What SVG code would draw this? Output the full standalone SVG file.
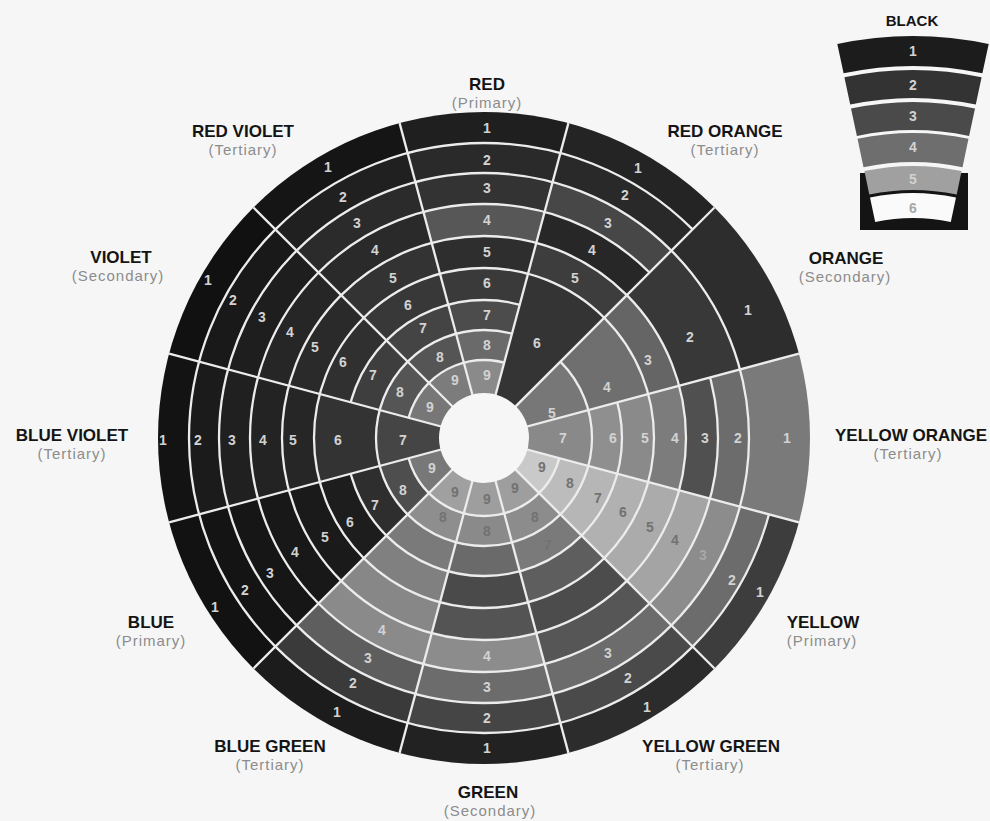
<svg xmlns="http://www.w3.org/2000/svg" width="990" height="821" viewBox="0 0 990 821">
<style>
.w circle{stroke:#ececec;stroke-width:2.3}
.w circle.o{stroke:none}
.sep line{stroke:#ececec;stroke-width:2.3}
.n{font-family:"Liberation Sans",Arial,sans-serif;font-weight:bold;font-size:14px;text-anchor:middle;fill:#d2d2d2}
.n.d{fill:#727272}
.n.m{fill:#a8a8a8}
.nm{font-family:"Liberation Sans",Arial,sans-serif;font-weight:bold;font-size:17px;text-anchor:middle;fill:#141414}
.sb{font-family:"Liberation Sans",Arial,sans-serif;font-size:15px;text-anchor:middle;fill:#8c8c8c;letter-spacing:1px}
</style>
<defs>
<clipPath id="c-yo"><path d="M484 438 L870.4 541.5 L870.4 334.5 Z"/></clipPath>
<clipPath id="c-o"><path d="M484 438 L870.4 334.5 L766.8 155.2 Z"/></clipPath>
<clipPath id="c-ro"><path d="M484 438 L766.8 155.2 L587.5 51.6 Z"/></clipPath>
<clipPath id="c-r"><path d="M484 438 L587.5 51.6 L380.5 51.6 Z"/></clipPath>
<clipPath id="c-rv"><path d="M484 438 L380.5 51.6 L201.2 155.2 Z"/></clipPath>
<clipPath id="c-v"><path d="M484 438 L201.2 155.2 L97.6 334.5 Z"/></clipPath>
<clipPath id="c-bv"><path d="M484 438 L97.6 334.5 L97.6 541.5 Z"/></clipPath>
<clipPath id="c-b"><path d="M484 438 L97.6 541.5 L201.2 720.8 Z"/></clipPath>
<clipPath id="c-bg"><path d="M484 438 L201.2 720.8 L380.5 824.4 Z"/></clipPath>
<clipPath id="c-g"><path d="M484 438 L380.5 824.4 L587.5 824.4 Z"/></clipPath>
<clipPath id="c-yg"><path d="M484 438 L587.5 824.4 L766.8 720.8 Z"/></clipPath>
<clipPath id="c-y"><path d="M484 438 L766.8 720.8 L870.4 541.5 Z"/></clipPath>
</defs>
<rect width="990" height="821" fill="#f6f6f6"/>

<g id="sector-red">
<g class="w" clip-path="url(#c-r)">
<circle class="o" cx="484" cy="438" r="326" fill="#1f1f1f"/>
<circle cx="484" cy="438" r="295" fill="#2a2a2a"/>
<circle cx="484" cy="438" r="265" fill="#333333"/>
<circle cx="484" cy="438" r="234" fill="#575757"/>
<circle cx="484" cy="438" r="202" fill="#2e2e2e"/>
<circle cx="484" cy="438" r="170" fill="#3a3a3a"/>
<circle cx="484" cy="438" r="138" fill="#4c4c4c"/>
<circle cx="484" cy="438" r="108" fill="#6a6a6a"/>
<circle cx="484" cy="438" r="78" fill="#8a8a8a"/>
</g>
<text class="n" x="487" y="133">1</text><text class="n" x="487" y="165">2</text><text class="n" x="487" y="193">3</text>
<text class="n" x="487" y="225">4</text><text class="n" x="487" y="257">5</text><text class="n" x="487" y="288">6</text>
<text class="n" x="487" y="320">7</text><text class="n" x="487" y="350">8</text><text class="n" x="487" y="380">9</text>
<text class="nm" x="487" y="90">RED</text><text class="sb" x="487" y="108">(Primary)</text>
</g>

<g id="sector-red-orange">
<g class="w" clip-path="url(#c-ro)">
<circle class="o" cx="484" cy="438" r="326" fill="#242424"/>
<circle cx="484" cy="438" r="295" fill="#292929"/>
<circle cx="484" cy="438" r="265" fill="#474747"/>
<circle cx="484" cy="438" r="234" fill="#272727"/>
<circle cx="484" cy="438" r="202" fill="#3d3d3d"/>
<circle cx="484" cy="438" r="170" fill="#343434"/>
</g>
<text class="n" x="638" y="173">1</text><text class="n" x="625" y="200">2</text><text class="n" x="608" y="228">3</text>
<text class="n" x="592" y="255">4</text><text class="n" x="575" y="283">5</text><text class="n" x="537" y="348">6</text>
<text class="nm" x="725" y="137">RED ORANGE</text><text class="sb" x="725" y="155">(Tertiary)</text>
</g>

<g id="sector-orange">
<g class="w" clip-path="url(#c-o)">
<circle class="o" cx="484" cy="438" r="326" fill="#2d2d2d"/>
<circle cx="484" cy="438" r="265" fill="#383838"/>
<circle cx="484" cy="438" r="202" fill="#656565"/>
<circle cx="484" cy="438" r="170" fill="#6f6f6f"/>
<circle cx="484" cy="438" r="108" fill="#777777"/>
</g>
<text class="n" x="748" y="315">1</text><text class="n" x="690" y="342">2</text><text class="n" x="648" y="365">3</text>
<text class="n" x="607" y="392">4</text><text class="n" x="552" y="418">5</text>
<text class="nm" x="846" y="264">ORANGE</text><text class="sb" x="845" y="282">(Secondary)</text>
</g>

<g id="sector-yellow-orange">
<g class="w" clip-path="url(#c-yo)">
<circle class="o" cx="484" cy="438" r="326" fill="#7a7a7a"/>
<circle cx="484" cy="438" r="265" fill="#6c6c6c"/>
<circle cx="484" cy="438" r="234" fill="#505050"/>
<circle cx="484" cy="438" r="202" fill="#7c7c7c"/>
<circle cx="484" cy="438" r="170" fill="#8a8a8a"/>
<circle cx="484" cy="438" r="138" fill="#8f8f8f"/>
<circle cx="484" cy="438" r="108" fill="#898989"/>
</g>
<text class="n" x="787" y="443">1</text><text class="n" x="738" y="443">2</text><text class="n" x="705" y="443">3</text>
<text class="n" x="675" y="443">4</text><text class="n" x="645" y="443">5</text><text class="n" x="613" y="443">6</text>
<text class="n" x="563" y="443">7</text>
<text class="nm" x="911" y="441">YELLOW ORANGE</text><text class="sb" x="908" y="459">(Tertiary)</text>
</g>

<g id="sector-yellow">
<g class="w" clip-path="url(#c-y)">
<circle class="o" cx="484" cy="438" r="326" fill="#3d3d3d"/>
<circle cx="484" cy="438" r="295" fill="#6c6c6c"/>
<circle cx="484" cy="438" r="265" fill="#8c8c8c"/>
<circle cx="484" cy="438" r="234" fill="#a4a4a4"/>
<circle cx="484" cy="438" r="202" fill="#ababab"/>
<circle cx="484" cy="438" r="170" fill="#b1b1b1"/>
<circle cx="484" cy="438" r="138" fill="#b6b6b6"/>
<circle cx="484" cy="438" r="108" fill="#bcbcbc"/>
<circle cx="484" cy="438" r="78" fill="#c9c9c9"/>
</g>
<text class="n" x="760" y="597">1</text><text class="n" x="732" y="585">2</text><text class="n m" x="703" y="560">3</text>
<text class="n d" x="675" y="545">4</text><text class="n d" x="650" y="532">5</text><text class="n d" x="623" y="517">6</text>
<text class="n d" x="598" y="503">7</text><text class="n d" x="570" y="488">8</text><text class="n d" x="542" y="472">9</text>
<text class="nm" x="823" y="628">YELLOW</text><text class="sb" x="822" y="646">(Primary)</text>
</g>

<g id="sector-yellow-green">
<g class="w" clip-path="url(#c-yg)">
<circle class="o" cx="484" cy="438" r="326" fill="#2c2c2c"/>
<circle cx="484" cy="438" r="295" fill="#4a4a4a"/>
<circle cx="484" cy="438" r="265" fill="#6c6c6c"/>
<circle cx="484" cy="438" r="234" fill="#565656"/>
<circle cx="484" cy="438" r="202" fill="#4c4c4c"/>
<circle cx="484" cy="438" r="170" fill="#5e5e5e"/>
<circle cx="484" cy="438" r="138" fill="#7a7a7a"/>
<circle cx="484" cy="438" r="108" fill="#8c8c8c"/>
<circle cx="484" cy="438" r="78" fill="#9e9e9e"/>
</g>
<text class="n" x="647" y="712">1</text><text class="n" x="628" y="683">2</text><text class="n" x="608" y="658">3</text>
<text class="n d" x="548" y="550">7</text><text class="n d" x="535" y="522">8</text><text class="n d" x="515" y="493">9</text>
<text class="nm" x="711" y="752">YELLOW GREEN</text><text class="sb" x="710" y="770">(Tertiary)</text>
</g>

<g id="sector-green">
<g class="w" clip-path="url(#c-g)">
<circle class="o" cx="484" cy="438" r="326" fill="#222222"/>
<circle cx="484" cy="438" r="295" fill="#454545"/>
<circle cx="484" cy="438" r="265" fill="#6c6c6c"/>
<circle cx="484" cy="438" r="234" fill="#8c8c8c"/>
<circle cx="484" cy="438" r="202" fill="#545454"/>
<circle cx="484" cy="438" r="170" fill="#4a4a4a"/>
<circle cx="484" cy="438" r="138" fill="#6a6a6a"/>
<circle cx="484" cy="438" r="108" fill="#8a8a8a"/>
<circle cx="484" cy="438" r="78" fill="#9e9e9e"/>
</g>
<text class="n" x="487" y="753">1</text><text class="n" x="487" y="723">2</text><text class="n" x="487" y="692">3</text>
<text class="n" x="487" y="661">4</text><text class="n d" x="487" y="536">8</text><text class="n d" x="487" y="504">9</text>
<text class="nm" x="488" y="798">GREEN</text><text class="sb" x="490" y="816">(Secondary)</text>
</g>

<g id="sector-blue-green">
<g class="w" clip-path="url(#c-bg)">
<circle class="o" cx="484" cy="438" r="326" fill="#1c1c1c"/>
<circle cx="484" cy="438" r="295" fill="#3a3a3a"/>
<circle cx="484" cy="438" r="265" fill="#5e5e5e"/>
<circle cx="484" cy="438" r="234" fill="#8a8a8a"/>
<circle cx="484" cy="438" r="202" fill="#878787"/>
<circle cx="484" cy="438" r="170" fill="#808080"/>
<circle cx="484" cy="438" r="138" fill="#7a7a7a"/>
<circle cx="484" cy="438" r="108" fill="#8e8e8e"/>
<circle cx="484" cy="438" r="78" fill="#a0a0a0"/>
</g>
<text class="n" x="337" y="717">1</text><text class="n" x="353" y="688">2</text><text class="n" x="368" y="663">3</text>
<text class="n" x="382" y="635">4</text><text class="n d" x="443" y="522">8</text><text class="n d" x="455" y="497">9</text>
<text class="nm" x="270" y="752">BLUE GREEN</text><text class="sb" x="270" y="770">(Tertiary)</text>
</g>

<g id="sector-blue">
<g class="w" clip-path="url(#c-b)">
<circle class="o" cx="484" cy="438" r="326" fill="#121212"/>
<circle cx="484" cy="438" r="295" fill="#141414"/>
<circle cx="484" cy="438" r="265" fill="#161616"/>
<circle cx="484" cy="438" r="234" fill="#181818"/>
<circle cx="484" cy="438" r="202" fill="#1a1a1a"/>
<circle cx="484" cy="438" r="170" fill="#1d1d1d"/>
<circle cx="484" cy="438" r="138" fill="#2e2e2e"/>
<circle cx="484" cy="438" r="108" fill="#4e4e4e"/>
<circle cx="484" cy="438" r="78" fill="#787878"/>
</g>
<text class="n" x="215" y="612">1</text><text class="n" x="245" y="595">2</text><text class="n" x="270" y="578">3</text>
<text class="n" x="295" y="557">4</text><text class="n" x="325" y="542">5</text><text class="n" x="350" y="527">6</text>
<text class="n" x="375" y="510">7</text><text class="n" x="403" y="495">8</text><text class="n" x="432" y="473">9</text>
<text class="nm" x="151" y="628">BLUE</text><text class="sb" x="151" y="646">(Primary)</text>
</g>

<g id="sector-blue-violet">
<g class="w" clip-path="url(#c-bv)">
<circle class="o" cx="484" cy="438" r="326" fill="#131313"/>
<circle cx="484" cy="438" r="295" fill="#1b1b1b"/>
<circle cx="484" cy="438" r="265" fill="#202020"/>
<circle cx="484" cy="438" r="234" fill="#232323"/>
<circle cx="484" cy="438" r="202" fill="#262626"/>
<circle cx="484" cy="438" r="170" fill="#333333"/>
<circle cx="484" cy="438" r="108" fill="#454545"/>
</g>
<text class="n" x="163" y="445">1</text><text class="n" x="198" y="445">2</text><text class="n" x="232" y="445">3</text>
<text class="n" x="263" y="445">4</text><text class="n" x="293" y="445">5</text><text class="n" x="338" y="445">6</text>
<text class="n" x="403" y="445">7</text>
<text class="nm" x="72" y="441">BLUE VIOLET</text><text class="sb" x="72" y="459">(Tertiary)</text>
</g>

<g id="sector-violet">
<g class="w" clip-path="url(#c-v)">
<circle class="o" cx="484" cy="438" r="326" fill="#111111"/>
<circle cx="484" cy="438" r="295" fill="#191919"/>
<circle cx="484" cy="438" r="265" fill="#1e1e1e"/>
<circle cx="484" cy="438" r="234" fill="#262626"/>
<circle cx="484" cy="438" r="202" fill="#2a2a2a"/>
<circle cx="484" cy="438" r="170" fill="#303030"/>
<circle cx="484" cy="438" r="138" fill="#3e3e3e"/>
<circle cx="484" cy="438" r="108" fill="#555555"/>
<circle cx="484" cy="438" r="78" fill="#777777"/>
</g>
<text class="n" x="208" y="285">1</text><text class="n" x="233" y="305">2</text><text class="n" x="262" y="322">3</text>
<text class="n" x="290" y="337">4</text><text class="n" x="315" y="352">5</text><text class="n" x="343" y="367">6</text>
<text class="n" x="373" y="380">7</text><text class="n" x="400" y="397">8</text><text class="n" x="430" y="412">9</text>
<text class="nm" x="121" y="263">VIOLET</text><text class="sb" x="118" y="281">(Secondary)</text>
</g>

<g id="sector-red-violet">
<g class="w" clip-path="url(#c-rv)">
<circle class="o" cx="484" cy="438" r="326" fill="#151515"/>
<circle cx="484" cy="438" r="295" fill="#202020"/>
<circle cx="484" cy="438" r="265" fill="#2b2b2b"/>
<circle cx="484" cy="438" r="234" fill="#2a2a2a"/>
<circle cx="484" cy="438" r="202" fill="#333333"/>
<circle cx="484" cy="438" r="170" fill="#383838"/>
<circle cx="484" cy="438" r="138" fill="#444444"/>
<circle cx="484" cy="438" r="108" fill="#555555"/>
<circle cx="484" cy="438" r="78" fill="#7c7c7c"/>
</g>
<text class="n" x="328" y="172">1</text><text class="n" x="343" y="202">2</text><text class="n" x="357" y="228">3</text>
<text class="n" x="375" y="255">4</text><text class="n" x="393" y="283">5</text><text class="n" x="408" y="310">6</text>
<text class="n" x="423" y="333">7</text><text class="n" x="440" y="362">8</text><text class="n" x="455" y="385">9</text>
<text class="nm" x="243" y="137">RED VIOLET</text><text class="sb" x="243" y="155">(Tertiary)</text>
</g>

<g id="connectors" class="sep">
<line x1="484" y1="438" x2="798.9" y2="353.6"/>
<line x1="484" y1="438" x2="714.5" y2="207.5"/>
<line x1="484" y1="438" x2="568.4" y2="123.1"/>
<line x1="484" y1="438" x2="399.6" y2="123.1"/>
<line x1="484" y1="438" x2="253.5" y2="207.5"/>
<line x1="484" y1="438" x2="169.1" y2="353.6"/>
<line x1="484" y1="438" x2="169.1" y2="522.4"/>
<line x1="484" y1="438" x2="253.5" y2="668.5"/>
<line x1="484" y1="438" x2="399.6" y2="752.9"/>
<line x1="484" y1="438" x2="568.4" y2="752.9"/>
<line x1="484" y1="438" x2="714.5" y2="668.5"/>
<line x1="484" y1="438" x2="798.9" y2="522.4"/>
</g>
<circle id="center" cx="484" cy="438" r="45" fill="#f6f6f6"/>

<g id="black-legend">
<text class="nm" x="912" y="26" style="font-size:15px">BLACK</text>
<rect x="860" y="173" width="108" height="57" fill="#141414"/>
<path d="M837.3 44.0 A364 364 0 0 1 988.7 44.0 L982.4 73.3 A334 334 0 0 0 843.6 73.3 Z" fill="#1c1c1c"/>
<path d="M844.4 77.2 A330 330 0 0 1 981.6 77.2 L975.8 104.6 A302 302 0 0 0 850.2 104.6 Z" fill="#333333"/>
<path d="M851.0 108.5 A298 298 0 0 1 975.0 108.5 L969.1 135.9 A270 270 0 0 0 856.9 135.9 Z" fill="#4a4a4a"/>
<path d="M857.5 138.8 A267 267 0 0 1 968.5 138.8 L962.5 167.2 A238 238 0 0 0 863.5 167.2 Z" fill="#6e6e6e"/>
<path d="M864.4 171.1 A234 234 0 0 1 961.6 171.1 L956.7 194.6 A210 210 0 0 0 869.3 194.6 Z" fill="#a0a0a0"/>
<path d="M870.0 197.5 A207 207 0 0 1 956.0 197.5 L950.8 222.0 A182 182 0 0 0 875.2 222.0 Z" fill="#fafafa"/>
<text class="n" x="913" y="56">1</text><text class="n" x="913" y="90">2</text><text class="n" x="913" y="121">3</text>
<text class="n" x="913" y="152">4</text><text class="n" x="913" y="184">5</text><text class="n m" x="913" y="213">6</text>
</g>
</svg>
